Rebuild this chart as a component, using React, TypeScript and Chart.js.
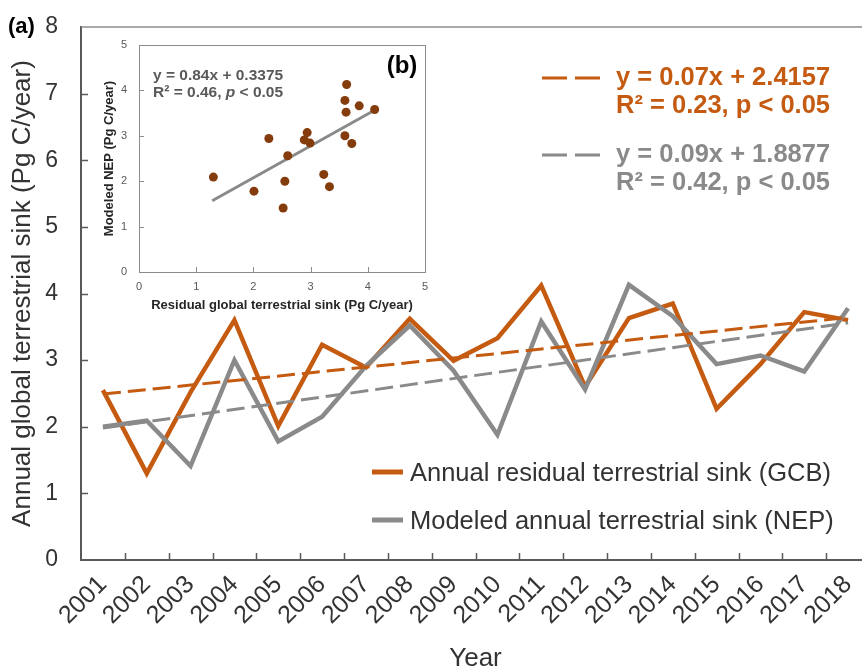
import React, { useEffect, useRef } from 'react';
import { Chart, registerables } from 'chart.js';

Chart.register(...registerables);

// ---------------- data ----------------
const years = ['2001', '2002', '2003', '2004', '2005', '2006', '2007', '2008', '2009', '2010', '2011', '2012', '2013', '2014', '2015', '2016', '2017', '2018'];
const gcbSink = [2.55, 1.30, 2.52, 3.60, 2.01, 3.23, 2.89, 3.62, 2.99, 3.33, 4.12, 2.60, 3.63, 3.85, 2.27, 2.94, 3.72, 3.60];
const nepSink = [2.00, 2.09, 1.41, 3.00, 1.78, 2.15, 2.91, 3.52, 2.84, 1.88, 3.58, 2.56, 4.13, 3.66, 2.94, 3.07, 2.83, 3.78];
const gcbTrendEnds = [2.49, 3.64];
const nepTrendEnds = [1.98, 3.56];
const gcbTrendText = ['y = 0.07x + 2.4157', 'R² = 0.23, p < 0.05'];
const nepTrendText = ['y = 0.09x + 1.8877', 'R² = 0.42, p < 0.05'];
const seriesNames = ['Annual residual terrestrial sink (GCB)', 'Modeled annual terrestrial sink (NEP)'];
const yAxisMin = 0;
const yAxisMax = 8;
const insetAxisMax = 5;
const insetFitX = [1.28, 4.14];
const insetFitY = [1.57, 3.58];
const insetEqText = ['y = 0.84x + 0.3375', 'R² = 0.46, ', 'p', ' < 0.05'];

// ---------------- style ----------------
const FONT = "'Liberation Sans', Arial, Helvetica, sans-serif";
const ORANGE = '#C55A11';
const GRAY = '#8A8A8A';
const TEXT = '#333333';
const AXIS = '#595959';
const FRAME = '#8C8C8C';
const BROWN = '#843C0C';
const CLEAR = 'rgba(0,0,0,0)';

function trendSeries(ends: number[]) {
  return years.map((_, i) => (i === 0 ? ends[0] : i === years.length - 1 ? ends[1] : null));
}

// invisible tick marks used only to push the labels away from the axis
function spacerGrid(len: number) {
  return { display: true, drawOnChartArea: false, drawTicks: true, tickLength: len, color: CLEAR, tickColor: CLEAR };
}

const mainDecor = {
  id: 'mainDecor',
  afterDraw(chart: any) {
    const { ctx, chartArea: a, scales } = chart;
    const x = scales.x;
    const y = scales.y;
    ctx.save();
    // top frame
    ctx.strokeStyle = FRAME;
    ctx.lineWidth = 1.5;
    ctx.beginPath();
    ctx.moveTo(a.left, a.top);
    ctx.lineTo(a.right, a.top);
    ctx.stroke();
    // inside ticks
    ctx.strokeStyle = AXIS;
    ctx.lineWidth = 1.5;
    ctx.beginPath();
    for (let i = 1; i < years.length; i++) {
      const px = Math.round((x.getPixelForValue(i - 1) + x.getPixelForValue(i)) / 2) + 0.5;
      ctx.moveTo(px, a.bottom);
      ctx.lineTo(px, a.bottom - 7);
    }
    for (const t of y.ticks) {
      if (t.value <= yAxisMin || t.value >= yAxisMax) continue;
      const py = Math.round(y.getPixelForValue(t.value)) + 0.5;
      ctx.moveTo(a.left, py);
      ctx.lineTo(a.left + 7, py);
    }
    ctx.stroke();

    // (a)
    ctx.fillStyle = '#000';
    ctx.font = `bold 22px ${FONT}`;
    ctx.textAlign = 'left';
    ctx.textBaseline = 'middle';
    ctx.fillText('(a)', 8, 27);

    // trend legend
    const drawTrend = (color: string, lineY: number, texts: string[], t1: number, t2: number) => {
      ctx.strokeStyle = color;
      ctx.lineWidth = 3;
      ctx.setLineDash([25, 8]);
      ctx.beginPath();
      ctx.moveTo(542, lineY);
      ctx.lineTo(600, lineY);
      ctx.stroke();
      ctx.setLineDash([]);
      ctx.fillStyle = color;
      ctx.font = `bold 25.5px ${FONT}`;
      ctx.textAlign = 'left';
      ctx.textBaseline = 'alphabetic';
      ctx.fillText(texts[0], 616, t1);
      ctx.fillText(texts[1], 616, t2);
    };
    drawTrend(ORANGE, 78, gcbTrendText, 85, 113);
    drawTrend(GRAY, 155, nepTrendText, 162, 190);

    // series legend
    const drawLeg = (color: string, ly: number, label: string) => {
      ctx.strokeStyle = color;
      ctx.lineWidth = 5;
      ctx.beginPath();
      ctx.moveTo(372, ly);
      ctx.lineTo(403, ly);
      ctx.stroke();
      ctx.fillStyle = TEXT;
      ctx.font = `25.5px ${FONT}`;
      ctx.textAlign = 'left';
      ctx.textBaseline = 'alphabetic';
      ctx.fillText(label, 410, ly + 9);
    };
    drawLeg(ORANGE, 472, seriesNames[0]);
    drawLeg(GRAY, 520, seriesNames[1]);
    ctx.restore();
  },
};

const insetDecor = {
  id: 'insetDecor',
  afterDraw(chart: any) {
    const { ctx, chartArea: a, scales } = chart;
    const x = scales.x;
    const y = scales.y;
    ctx.save();
    ctx.strokeStyle = FRAME;
    ctx.lineWidth = 1;
    ctx.strokeRect(Math.round(a.left) + 0.5, Math.round(a.top) + 0.5, Math.round(a.right - a.left), Math.round(a.bottom - a.top));
    ctx.beginPath();
    for (const t of x.ticks) {
      if (t.value <= 0 || t.value >= insetAxisMax) continue;
      const px = Math.round(x.getPixelForValue(t.value)) + 0.5;
      ctx.moveTo(px, a.bottom);
      ctx.lineTo(px, a.bottom - 5);
    }
    for (const t of y.ticks) {
      if (t.value <= 0 || t.value >= insetAxisMax) continue;
      const py = Math.round(y.getPixelForValue(t.value)) + 0.5;
      ctx.moveTo(a.left, py);
      ctx.lineTo(a.left + 5, py);
    }
    ctx.stroke();

    ctx.fillStyle = '#595959';
    ctx.textAlign = 'left';
    ctx.textBaseline = 'alphabetic';
    const bold = `bold 15.5px ${FONT}`;
    ctx.font = bold;
    const ex = a.left + 14;
    ctx.fillText(insetEqText[0], ex, a.top + 35);
    let cx = ex;
    const ly = a.top + 52;
    ctx.fillText(insetEqText[1], cx, ly);
    cx += ctx.measureText(insetEqText[1]).width;
    ctx.font = `italic bold 15.5px ${FONT}`;
    ctx.fillText(insetEqText[2], cx, ly);
    cx += ctx.measureText(insetEqText[2]).width;
    ctx.font = bold;
    ctx.fillText(insetEqText[3], cx, ly);

    ctx.fillStyle = '#000';
    ctx.font = `bold 24px ${FONT}`;
    ctx.textAlign = 'center';
    ctx.textBaseline = 'middle';
    ctx.fillText('(b)', a.right - 23, a.top + 21);
    ctx.restore();
  },
};

export default function App() {
  const mainRef = useRef<HTMLCanvasElement | null>(null);
  const insetRef = useRef<HTMLCanvasElement | null>(null);

  useEffect(() => {
    Chart.defaults.font.family = FONT;
    const main = new Chart(mainRef.current as HTMLCanvasElement, {
      type: 'line',
      data: {
        labels: years,
        datasets: [
          { label: 'GCB trend', data: trendSeries(gcbTrendEnds), borderColor: ORANGE, borderWidth: 3, borderDash: [18, 7], spanGaps: true, pointRadius: 0, order: 1 },
          { label: 'NEP trend', data: trendSeries(nepTrendEnds), borderColor: GRAY, borderWidth: 3, borderDash: [18, 7], spanGaps: true, pointRadius: 0, order: 0 },
          { label: seriesNames[1], data: nepSink, borderColor: GRAY, borderWidth: 4.5, pointRadius: 0, tension: 0, order: 2 },
          { label: seriesNames[0], data: gcbSink, borderColor: ORANGE, borderWidth: 4.5, pointRadius: 0, tension: 0, order: 3 },
        ],
      },
      options: {
        responsive: false,
        animation: false,
        devicePixelRatio: 1,
        layout: { padding: { top: 27, right: 10, left: 0, bottom: 0 } },
        plugins: { legend: { display: false }, tooltip: { enabled: false }, title: { display: false } },
        scales: {
          x: {
            type: 'category',
            offset: true,
            grid: { ...spacerGrid(10), offset: true },
            border: { display: true, color: AXIS, width: 2 },
            ticks: { autoSkip: false, minRotation: 45, maxRotation: 45, padding: 0, color: TEXT, font: { size: 25 } },
            title: { display: true, text: 'Year', color: TEXT, font: { size: 26 }, padding: { top: 0, bottom: -4 } },
            afterFit: (s: any) => { s.height = 110; },
          },
          y: {
            min: yAxisMin,
            max: yAxisMax,
            grid: spacerGrid(23),
            border: { display: true, color: AXIS, width: 2 },
            ticks: { stepSize: 1, padding: 0, color: TEXT, font: { size: 23 } },
            title: { display: true, text: 'Annual global terrestrial sink (Pg C/year)', color: TEXT, font: { size: 26 }, padding: { top: 7, bottom: 0 } },
            afterFit: (s: any) => { s.width = 81; },
          },
        },
      } as any,
      plugins: [mainDecor],
    });

    const inset = new Chart(insetRef.current as HTMLCanvasElement, {
      type: 'scatter',
      data: {
        datasets: [
          { label: 'points', data: gcbSink.map((v, i) => ({ x: v, y: nepSink[i] })), backgroundColor: BROWN, borderWidth: 0, pointRadius: 4.5, order: 0 },
          { type: 'line', label: 'fit', data: insetFitX.map((v, i) => ({ x: v, y: insetFitY[i] })), borderColor: GRAY, borderWidth: 3, pointRadius: 0, showLine: true, order: 1 } as any,
        ],
      },
      options: {
        responsive: false,
        animation: false,
        devicePixelRatio: 1,
        layout: { padding: { top: 10, right: 15, left: 0, bottom: 0 } },
        plugins: { legend: { display: false }, tooltip: { enabled: false } },
        scales: {
          x: {
            type: 'linear',
            min: 0,
            max: insetAxisMax,
            grid: spacerGrid(8),
            border: { display: false },
            ticks: { stepSize: 1, padding: 0, color: '#595959', font: { size: 11 } },
            title: { display: true, text: 'Residual global terrestrial sink (Pg C/year)', color: '#262626', font: { size: 13, weight: 'bold' }, padding: { top: 0, bottom: 7 } },
            afterFit: (s: any) => { s.height = 48; },
          },
          y: {
            type: 'linear',
            min: 0,
            max: insetAxisMax,
            grid: spacerGrid(12),
            border: { display: false },
            ticks: { stepSize: 1, padding: 0, color: '#595959', font: { size: 11 } },
            title: { display: true, text: 'Modeled NEP (Pg C/year)', color: '#262626', font: { size: 13, weight: 'bold' }, padding: { top: 7, bottom: 0 } },
            afterFit: (s: any) => { s.width = 44; },
          },
        },
      } as any,
      plugins: [insetDecor],
    });

    return () => {
      main.destroy();
      inset.destroy();
    };
  }, []);

  return (
    <div style={{ position: 'absolute', left: 0, top: 0, width: 862, height: 670, overflow: 'hidden', background: '#fff' }}>
      <canvas ref={mainRef} width={880} height={670} style={{ position: 'absolute', left: 0, top: 0, width: 880, height: 670 }} />
      <canvas ref={insetRef} width={345} height={285} style={{ position: 'absolute', left: 95, top: 35, width: 345, height: 285 }} />
    </div>
  );
}
